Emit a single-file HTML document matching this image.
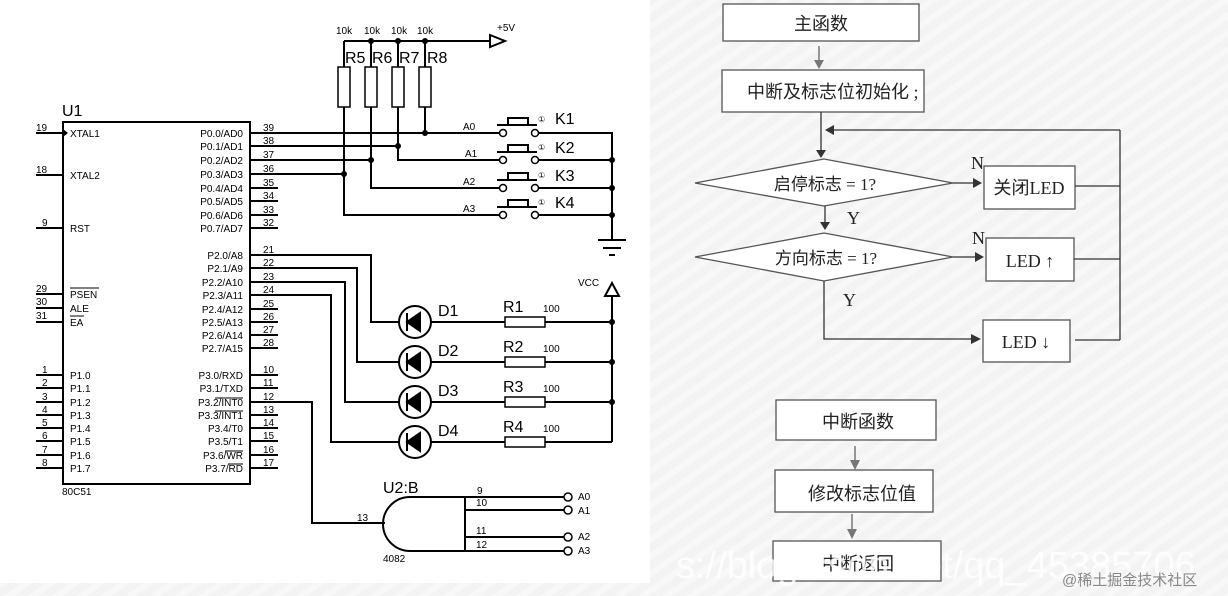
<!DOCTYPE html>
<html><head><meta charset="utf-8"><style>
html,body{margin:0;padding:0;background:#fff}
svg{display:block}
.s{font-family:"Liberation Sans",sans-serif;fill:#000}
.c{font-family:"Liberation Serif","Noto Sans CJK SC",serif;fill:#222}
</style></head><body>
<svg width="1228" height="596" viewBox="0 0 1228 596" xmlns="http://www.w3.org/2000/svg">
<defs>
<pattern id="st" width="14" height="14" patternUnits="userSpaceOnUse" patternTransform="rotate(-35)">
<rect width="14" height="14" fill="#f3f3f3"/><rect width="14" height="6" fill="#f8f8f8"/>
</pattern>
</defs>
<rect x="650" y="0" width="578" height="596" fill="url(#st)"/>
<rect x="0" y="583" width="650" height="13" fill="url(#st)"/>

<g stroke="#000" stroke-width="2" fill="none">
<rect x="63" y="122" width="187" height="362"/>
<path d="M36 133H63M36 175H63M36 228H63M36 294H63M36 308H63M36 322H63"/>
<path d="M36 375H63M36 388H63M36 402H63M36 415H63M36 428H63M36 441H63M36 455H63M36 468H63"/>
<path d="M250 188H278M250 201H278M250 215H278M250 228H278"/>
<path d="M250 309H278M250 322H278M250 335H278M250 348H278"/>
<path d="M250 375H278M250 388H278M250 415H278M250 428H278M250 441H278M250 455H278M250 468H278"/>
<path d="M250 133H503M250 146H398M250 160H371M250 174H344"/>
<path d="M344 41H490M344 41V67M371 41V67M398 41V67M425 41V67"/>
<path d="M344 107V215H500M371 107V188H500M398 107V160H500M425 107V133"/>
<path d="M539 133H612V240M539 160H612M539 188H612M539 215H612"/>
<path d="M598 240H626M603 248H621"/>
<path d="M609 255H615"/>
<path d="M497 125H537M508 125V118H528V125"/>
<path d="M497 152H537M508 152V145H528V152"/>
<path d="M497 180H537M508 180V173H528V180"/>
<path d="M497 207H537M508 207V200H528V207"/>
<path d="M250 255H371V322H399M250 268H357V362H399M250 282H345V402H399M250 295H331V442H399"/>
<path d="M431 322H505M545 322H612M431 362H505M545 362H612M431 402H505M545 402H612M431 442H505M545 442H612M612 296V442"/>
<path d="M250 402H312V523H385"/>
<path d="M465 497H410A27 27 0 0 0 410 551H465V497M465 497H565M465 510H565M465 537H565M465 551H565"/>
</g>
<g stroke="#000" stroke-width="1" fill="none">
<path d="M70 288H99M70 316H84M215 398H243M215 411H243M225 451H243M228 464H243"/>
</g>
<g stroke="#000" stroke-width="1.5" fill="#fff">
<rect x="338" y="67" width="12" height="40"/><rect x="365" y="67" width="12" height="40"/>
<rect x="392" y="67" width="12" height="40"/><rect x="419" y="67" width="12" height="40"/>
<rect x="505" y="317" width="40" height="10"/><rect x="505" y="357" width="40" height="10"/>
<rect x="505" y="397" width="40" height="10"/><rect x="505" y="437" width="40" height="10"/>
<circle cx="503" cy="133" r="3.5"/><circle cx="535" cy="133" r="3.5"/>
<circle cx="503" cy="160" r="3.5"/><circle cx="535" cy="160" r="3.5"/>
<circle cx="503" cy="188" r="3.5"/><circle cx="535" cy="188" r="3.5"/>
<circle cx="503" cy="215" r="3.5"/><circle cx="535" cy="215" r="3.5"/>
<circle cx="568" cy="497" r="4"/><circle cx="568" cy="510" r="4"/>
<circle cx="568" cy="537" r="4"/><circle cx="568" cy="551" r="4"/>
</g>
<g stroke="#000" stroke-width="2" fill="none">
<circle cx="415" cy="322" r="16"/><circle cx="415" cy="362" r="16"/>
<circle cx="415" cy="402" r="16"/><circle cx="415" cy="442" r="16"/>
<path d="M490 35L505 41L490 47Z"/>
<path d="M612 283L605 296H619Z"/>
</g>
<g fill="#000" stroke="#000" stroke-width="2">
<path d="M407 322L420 313V331Z M407 313V331"/>
<path d="M407 362L420 353V371Z M407 353V371"/>
<path d="M407 402L420 393V411Z M407 393V411"/>
<path d="M407 442L420 433V451Z M407 433V451"/>
</g>
<g fill="#000">
<path d="M63 129L68 133L63 137Z"/>
<circle cx="371" cy="41" r="3"/><circle cx="398" cy="41" r="3"/><circle cx="425" cy="41" r="3"/>
<circle cx="425" cy="133" r="3"/><circle cx="398" cy="146" r="3"/><circle cx="371" cy="160" r="3"/><circle cx="344" cy="174" r="3"/>
<circle cx="612" cy="160" r="3"/><circle cx="612" cy="188" r="3"/><circle cx="612" cy="215" r="3"/>
<circle cx="612" cy="322" r="3"/><circle cx="612" cy="362" r="3"/><circle cx="612" cy="402" r="3"/>
</g>
<g class="s" font-size="10">
<text x="36" y="131">19</text><text x="36" y="173">18</text><text x="42" y="226">9</text>
<text x="36" y="292">29</text><text x="36" y="305">30</text><text x="36" y="319">31</text>
<text x="42" y="373">1</text><text x="42" y="386">2</text><text x="42" y="400">3</text><text x="42" y="413">4</text>
<text x="42" y="426">5</text><text x="42" y="439">6</text><text x="42" y="453">7</text><text x="42" y="466">8</text>
<text x="70" y="137">XTAL1</text><text x="70" y="179">XTAL2</text><text x="70" y="232">RST</text>
<text x="70" y="298">PSEN</text><text x="70" y="312">ALE</text><text x="70" y="326">EA</text>
<text x="70" y="379">P1.0</text><text x="70" y="392">P1.1</text><text x="70" y="406">P1.2</text><text x="70" y="419">P1.3</text>
<text x="70" y="432">P1.4</text><text x="70" y="445">P1.5</text><text x="70" y="459">P1.6</text><text x="70" y="472">P1.7</text>
<text x="62" y="495">80C51</text>
<g text-anchor="end">
<text x="243" y="137">P0.0/AD0</text><text x="243" y="150">P0.1/AD1</text><text x="243" y="164">P0.2/AD2</text><text x="243" y="178">P0.3/AD3</text>
<text x="243" y="192">P0.4/AD4</text><text x="243" y="205">P0.5/AD5</text><text x="243" y="219">P0.6/AD6</text><text x="243" y="232">P0.7/AD7</text>
<text x="243" y="259">P2.0/A8</text><text x="243" y="272">P2.1/A9</text><text x="243" y="286">P2.2/A10</text><text x="243" y="299">P2.3/A11</text>
<text x="243" y="313">P2.4/A12</text><text x="243" y="326">P2.5/A13</text><text x="243" y="339">P2.6/A14</text><text x="243" y="352">P2.7/A15</text>
<text x="243" y="379">P3.0/RXD</text><text x="243" y="392">P3.1/TXD</text><text x="243" y="406">P3.2/INT0</text><text x="243" y="419">P3.3/INT1</text>
<text x="243" y="432">P3.4/T0</text><text x="243" y="445">P3.5/T1</text><text x="243" y="459">P3.6/WR</text><text x="243" y="472">P3.7/RD</text>
</g>
<text x="263" y="131">39</text><text x="263" y="144">38</text><text x="263" y="158">37</text><text x="263" y="172">36</text>
<text x="263" y="186">35</text><text x="263" y="199">34</text><text x="263" y="213">33</text><text x="263" y="226">32</text>
<text x="263" y="253">21</text><text x="263" y="266">22</text><text x="263" y="280">23</text><text x="263" y="293">24</text>
<text x="263" y="307">25</text><text x="263" y="320">26</text><text x="263" y="333">27</text><text x="263" y="346">28</text>
<text x="263" y="373">10</text><text x="263" y="386">11</text><text x="263" y="400">12</text><text x="263" y="413">13</text>
<text x="263" y="426">14</text><text x="263" y="439">15</text><text x="263" y="453">16</text><text x="263" y="466">17</text>
<text x="336" y="34">10k</text><text x="364" y="34">10k</text><text x="391" y="34">10k</text><text x="417" y="34">10k</text>
<text x="497" y="31">+5V</text>
<text x="463" y="130">A0</text><text x="465" y="157">A1</text><text x="463" y="185">A2</text><text x="463" y="212">A3</text>
<text x="578" y="286">VCC</text>
<text x="543" y="312">100</text><text x="543" y="352">100</text><text x="543" y="392">100</text><text x="543" y="432">100</text>
<text x="477" y="494">9</text><text x="476" y="506">10</text><text x="476" y="534">11</text><text x="476" y="548">12</text>
<text x="357" y="521">13</text><text x="383" y="562">4082</text>
<text x="578" y="500">A0</text><text x="578" y="514">A1</text><text x="578" y="540">A2</text><text x="578" y="554">A3</text>
</g>
<g class="s" font-size="16">
<text x="62" y="116">U1</text>
<text x="345" y="63">R5</text><text x="372" y="63">R6</text><text x="399" y="63">R7</text><text x="427" y="63">R8</text>
<text x="555" y="124">K1</text><text x="555" y="153">K2</text><text x="555" y="181">K3</text><text x="555" y="208">K4</text>
<text x="438" y="316">D1</text><text x="438" y="356">D2</text><text x="438" y="396">D3</text><text x="438" y="436">D4</text>
<text x="503" y="312">R1</text><text x="503" y="352">R2</text><text x="503" y="392">R3</text><text x="503" y="432">R4</text>
<text x="383" y="493">U2:B</text>
</g>
<g class="s" font-size="8"><text x="538" y="122">①</text><text x="538" y="150">①</text><text x="538" y="178">①</text><text x="538" y="205">①</text></g>

<g stroke="#555" stroke-width="1.3" fill="#fff">
<rect x="723" y="4" width="196" height="37"/>
<rect x="722" y="70" width="202" height="42"/>
<path d="M695 183L824 159L953 183L824 206Z"/>
<path d="M695 257L824 233L953 257L824 281Z"/>
<rect x="984" y="166" width="91" height="43"/>
<rect x="986" y="238" width="88" height="43"/>
<rect x="983" y="320" width="87" height="42"/>
<rect x="776" y="400" width="160" height="40"/>
<rect x="775" y="470" width="158" height="42"/>
<rect x="773" y="541" width="168" height="40"/>
</g>
<g stroke="#333" stroke-width="1.3" fill="none">
<path d="M821 112V157M1120 130H826M825 206V229M824 281V339H978M953 183H980M953 257H982"/>
<path d="M1075 186H1120M1074 259H1120M1075 340H1120M1120 130V340"/>
</g>
<g fill="#333">
<path d="M816 150L821 158L826 150Z"/><path d="M834 125L825 130L834 135Z"/>
<path d="M820 222L825 230L830 222Z"/>
<path d="M973 178L982 183L973 188Z"/><path d="M975 252L984 257L975 262Z"/><path d="M971 334L981 339L971 344Z"/>
</g>
<g stroke="#777" stroke-width="1.5"><path d="M819 46V62M855 446V462M852 514V530"/></g>
<g fill="#777"><path d="M814 60L819 69L824 60Z"/><path d="M850 460L855 470L860 460Z"/><path d="M847 529L852 539L857 529Z"/></g>
<g class="c" font-size="18">
<text x="821" y="30" text-anchor="middle">主函数</text>
<text x="747" y="98">中断及标志位初始化 ;</text>
<text x="825" y="190" text-anchor="middle" font-size="17">启停标志 = 1?</text>
<text x="826" y="264" text-anchor="middle" font-size="17">方向标志 = 1?</text>
<text x="1029" y="194" text-anchor="middle">关闭LED</text>
<text x="1030" y="267" text-anchor="middle">LED ↑</text>
<text x="1026" y="348" text-anchor="middle">LED ↓</text>
<text x="971" y="169">N</text><text x="972" y="244">N</text>
<text x="847" y="224">Y</text><text x="843" y="306">Y</text>
<text x="858" y="428" text-anchor="middle">中断函数</text>
<text x="862" y="500" text-anchor="middle">修改标志位值</text>
<text x="858" y="570" text-anchor="middle">中断返回</text>
</g>
<text x="676" y="578" font-family="Liberation Sans,sans-serif" font-size="38" fill="#fff" fill-opacity="0.8">s://blog.csdn.net/qq_45385706</text>
<text x="1062" y="585" font-family="Liberation Sans,'Noto Sans CJK SC',sans-serif" font-size="15" fill="#888">@稀土掘金技术社区</text>
</svg>
</body></html>
